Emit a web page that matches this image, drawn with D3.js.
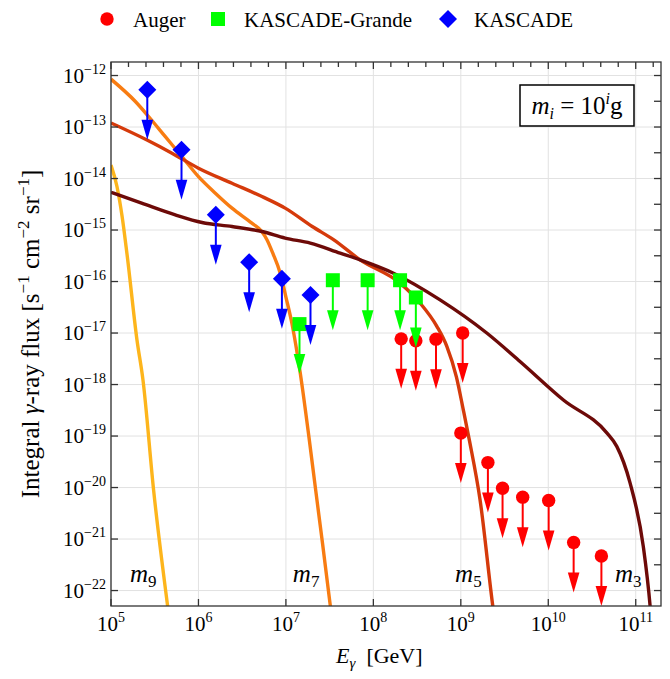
<!DOCTYPE html>
<html>
<head>
<meta charset="utf-8">
<script src="https://cdn.jsdelivr.net/npm/d3@7/dist/d3.min.js"></script>
<style>
    body { margin: 0; background: #fff; }
    svg { font-family: "Liberation Serif", "Times New Roman", serif; }
</style>
</head>
<body>
<div id="chart"></div>
<script>
// ---- data ----
// upper limits (arrow points)
const augerE = [2.08e8, 3.06e8, 5.2e8, 1.05e9, 1.0e9, 2.04e9, 3.0e9, 5.1e9, 1.01e10, 1.95e10, 4.05e10];
const augerFlux = [7.7e-18, 7.1e-18, 7.6e-18, 1.0e-17, 1.14e-19, 3.05e-20, 9.7e-21, 6.5e-21, 5.6e-21, 8.6e-22, 4.7e-22];

const grandeE = [1.43e7, 3.44e7, 8.6e7, 2.02e8, 3.06e8];
const grandeFlux = [1.49e-17, 1.06e-16, 1.06e-16, 1.06e-16, 4.9e-17];

const kascadeE = [2.6e5, 6.4e5, 1.58e6, 3.8e6, 9.0e6, 1.91e7];
const kascadeFlux = [5.3e-13, 3.6e-14, 1.97e-15, 2.38e-16, 1.13e-16, 5.5e-17];

// PBH curves, m_i = 10^i g
const m9E = [1e5, 1.17e5, 1.34e5, 1.52e5, 1.98e5, 2.32e5, 3.07e5, 4.44e5, 4.68e5];
const m9Flux = [1.82e-14, 7.0e-15, 1.83e-15, 3.55e-16, 7.4e-18, 1.23e-18, 8.9e-21, 5.0e-23, 2.5e-23];

const m7E = [1e5, 1.9e5, 2.69e5, 4.18e5, 6.47e5, 1.0e6, 1.56e6, 2.42e6, 4.08e6, 5.32e6, 6.07e6, 7.08e6,
    8.61e6, 1.0e7, 1.17e7, 1.46e7, 1.86e7, 2.19e7, 2.63e7, 3.39e7];
const m7Flux = [8.5e-13, 3.13e-13, 1.6e-13, 6.5e-14, 2.67e-14, 1.09e-14, 5.2e-15, 2.66e-15, 1.36e-15, 9.3e-16, 6.5e-16, 3.55e-16,
    1.45e-16, 5.0e-17, 1.55e-17, 1.66e-18, 7.9e-20, 8.9e-21, 7.9e-22, 2.5e-23];

const m5E = [1e5, 2.58e5, 4.98e5, 1.0e6, 2.42e6, 5.32e6, 9.8e6, 2.0e7, 3.5e7, 7.06e7, 2.02e8, 3.43e8,
    5.32e8, 6.92e8, 8.9e8, 1.07e9, 1.26e9, 1.66e9, 2.32e9, 2.45e9];
const m5Flux = [1.2e-13, 5.6e-14, 3.11e-14, 1.59e-14, 8.1e-15, 4.47e-15, 2.66e-15, 1.17e-15, 6.5e-16, 2.63e-16, 9.3e-17, 3.8e-17,
    1.35e-17, 5.5e-18, 1.41e-18, 3.16e-19, 7.9e-20, 5.75e-21, 5.0e-23, 2.5e-23];

const m3E = [1e5, 2.24e5, 5.43e5, 1.1e6, 2.42e6, 5.32e6, 9.8e6, 1.9e7, 4.17e7, 7.06e7, 1.7e8, 5.79e8,
    1.98e9, 4.75e9, 1.49e10, 4.67e10, 6.07e10, 8.61e10, 1.22e11, 1.46e11, 1.51e11];
const m3Flux = [5.4e-15, 3.33e-15, 1.97e-15, 1.4e-15, 1.17e-15, 9.35e-16, 6.97e-16, 5.57e-16, 3.55e-16, 2.63e-16, 1.45e-16, 4.4e-17,
    1.0e-17, 2.8e-18, 5.0e-19, 1.15e-19, 6.3e-20, 1.23e-20, 7.2e-22, 5.0e-23, 2.5e-23];

const curveNames = ['9', '7', '5', '3'];
const curveColors = ['#fdb51c', '#f87c12', '#d53a0b', '#6d0a08'];
// energy where each m_i label starts
const curveLabelE = [1.65e5, 1.2e7, 8.6e8, 5.8e10];

const xTickExps = [5, 6, 7, 8, 9, 10, 11];
const yTickExps = [-22, -21, -20, -19, -18, -17, -16, -15, -14, -13, -12];

const legendNames = ['Auger', 'KASCADE-Grande', 'KASCADE'];

const drawChart = (container) => {
    const dimensions = {
        width: 670,
        height: 679,
        margin: {top: 62, right: 9, bottom: 73, left: 111}
    };
    dimensions.boundWidth = dimensions.width - dimensions.margin.left - dimensions.margin.right;
    dimensions.boundHeight = dimensions.height - dimensions.margin.top - dimensions.margin.bottom;

    const root = d3.select(container)
        .append('svg')
        .attr('width', dimensions.width)
        .attr('height', dimensions.height);

    const svg = root.append('g')
        .attr('transform', `translate(${dimensions.margin.left},${dimensions.margin.top})`);

    const x = d3.scaleLog()
        .domain([1e5, 1.945e11])
        .range([0, dimensions.boundWidth]);
    const y = d3.scaleLog()
        .domain([5.01e-23, 1.83e-12])
        .range([dimensions.boundHeight, 0]);

    svg.append('clipPath').attr('id', 'plot-clip')
        .append('rect')
        .attr('width', dimensions.boundWidth)
        .attr('height', dimensions.boundHeight);

    // grid
    const grid = svg.append('g').attr('stroke', '#e2e2e2').attr('stroke-width', 1);
    grid.selectAll('.gx')
        .data(xTickExps)
        .join('line')
        .attr('class', 'gx')
        .attr('x1', d => x(Math.pow(10, d)))
        .attr('x2', d => x(Math.pow(10, d)))
        .attr('y1', 0)
        .attr('y2', dimensions.boundHeight);
    grid.selectAll('.gy')
        .data(yTickExps)
        .join('line')
        .attr('class', 'gy')
        .attr('x1', 0)
        .attr('x2', dimensions.boundWidth)
        .attr('y1', d => y(Math.pow(10, d)))
        .attr('y2', d => y(Math.pow(10, d)));

    // curves
    const curves = [
        d3.zip(m9E, m9Flux),
        d3.zip(m7E, m7Flux),
        d3.zip(m5E, m5Flux),
        d3.zip(m3E, m3Flux)
    ];
    const line = d3.line()
        .x(d => x(d[0]))
        .y(d => y(d[1]))
        .curve(d3.curveMonotoneX);

    svg.append('g')
        .attr('clip-path', 'url(#plot-clip)')
        .selectAll('path')
        .data(curves)
        .join('path')
        .attr('d', line)
        .attr('fill', 'none')
        .attr('stroke', (d, i) => curveColors[i])
        .attr('stroke-width', 3.4)
        .attr('stroke-linejoin', 'round');

    // upper limit markers with arrows
    const arrowLen = 50, headLen = 20, headHalf = 5.8;
    const drawLimits = (energies, fluxes, color, shape) => {
        const g = svg.append('g');
        const pts = d3.zip(energies, fluxes);
        const items = g.selectAll('g')
            .data(pts)
            .join('g')
            .attr('transform', d => `translate(${x(d[0])},${y(d[1])})`);
        items.append('line')
            .attr('x1', 0).attr('x2', 0)
            .attr('y1', 0).attr('y2', arrowLen - headLen + 1)
            .attr('stroke', color)
            .attr('stroke-width', 2);
        items.append('path')
            .attr('d', `M${-headHalf},${arrowLen - headLen}L${headHalf},${arrowLen - headLen}L0,${arrowLen}Z`)
            .attr('fill', color);
        items.append('path')
            .attr('d', shape)
            .attr('fill', color);
    };
    const circleShape = d3.symbol(d3.symbolCircle, Math.PI * 6.7 * 6.7)();
    const squareShape = 'M-7,-7H7V7H-7Z';
    const diamondShape = 'M0,-9L9,0L0,9L-9,0Z';

    drawLimits(augerE, augerFlux, '#ff0000', circleShape);
    drawLimits(grandeE, grandeFlux, '#00ff00', squareShape);
    drawLimits(kascadeE, kascadeFlux, '#0000ff', diamondShape);

    // frame + ticks (ticks point inwards)
    const frame = svg.append('g').attr('stroke', '#333').attr('stroke-width', 1.3);
    frame.append('rect')
        .attr('width', dimensions.boundWidth)
        .attr('height', dimensions.boundHeight)
        .attr('fill', 'none');

    xTickExps.forEach(e => {
        const px = x(Math.pow(10, e));
        frame.append('line').attr('x1', px).attr('x2', px)
            .attr('y1', dimensions.boundHeight).attr('y2', dimensions.boundHeight - 7);
    });
    yTickExps.forEach(e => {
        const py = y(Math.pow(10, e));
        frame.append('line').attr('x1', 0).attr('x2', 7).attr('y1', py).attr('y2', py);
    });
    // top ticks every 0.2 decade, right ticks every 0.5 decade
    d3.range(5, 11.3, 0.2).forEach(e => {
        const px = x(Math.pow(10, e));
        const isMajor = Math.abs(e - Math.round(e)) < 1e-6;
        frame.append('line').attr('x1', px).attr('x2', px)
            .attr('y1', 0).attr('y2', isMajor ? 7 : 5);
    });
    d3.range(-22, -11.7, 0.5).forEach(e => {
        const py = y(Math.pow(10, e));
        frame.append('line').attr('x1', dimensions.boundWidth).attr('x2', dimensions.boundWidth - 7)
            .attr('y1', py).attr('y2', py);
    });

    // tick labels
    const tickFont = 21, supFont = 14;
    const xLabels = svg.append('g')
        .selectAll('text')
        .data(xTickExps)
        .join('text')
        .attr('x', d => x(Math.pow(10, d)))
        .attr('y', dimensions.boundHeight + 25)
        .attr('text-anchor', 'middle')
        .attr('font-size', tickFont);
    xLabels.append('tspan').text('10');
    xLabels.append('tspan').attr('dy', -9).attr('font-size', supFont).text(d => d);

    const yLabels = svg.append('g')
        .selectAll('text')
        .data(yTickExps)
        .join('text')
        .attr('x', -5)
        .attr('y', d => y(Math.pow(10, d)) + 7)
        .attr('text-anchor', 'end')
        .attr('font-size', tickFont);
    yLabels.append('tspan').text('10');
    yLabels.append('tspan').attr('dy', -9).attr('font-size', supFont).text(d => '\u2212' + Math.abs(d));

    // axis titles
    const xTitle = root.append('text')
        .attr('x', 336)
        .attr('y', 663)
        .attr('font-size', 22);
    xTitle.append('tspan').attr('font-style', 'italic').text('E');
    xTitle.append('tspan').attr('font-style', 'italic').attr('font-size', 15).attr('dy', 5).text('\u03b3');
    xTitle.append('tspan').attr('dy', -5).text('\u2002[GeV]');

    const yTitle = root.append('text')
        .attr('transform', `translate(39,${dimensions.margin.top + dimensions.boundHeight / 2}) rotate(-90)`)
        .attr('text-anchor', 'middle')
        .attr('font-size', 25);
    yTitle.append('tspan').text('Integral ');
    yTitle.append('tspan').attr('font-style', 'italic').text('\u03b3');
    yTitle.append('tspan').text('-ray flux [s');
    yTitle.append('tspan').attr('dy', -10).attr('font-size', 17).text('\u22121');
    yTitle.append('tspan').attr('dy', 10).text(' cm');
    yTitle.append('tspan').attr('dy', -10).attr('font-size', 17).text('\u22122');
    yTitle.append('tspan').attr('dy', 10).text(' sr');
    yTitle.append('tspan').attr('dy', -10).attr('font-size', 17).text('\u22121');
    yTitle.append('tspan').attr('dy', 10).text(']');

    // curve labels m_i
    const curveLabels = svg.append('g')
        .selectAll('text')
        .data(curveNames)
        .join('text')
        .attr('x', (d, i) => x(curveLabelE[i]))
        .attr('y', dimensions.boundHeight - 24)
        .attr('font-size', 25);
    curveLabels.append('tspan').attr('font-style', 'italic').text('m');
    curveLabels.append('tspan').attr('dy', 5).attr('font-size', 17).text(d => d);

    // m_i = 10^i g box
    const box = root.append('g');
    box.append('rect')
        .attr('x', 520).attr('y', 85)
        .attr('width', 114).attr('height', 41)
        .attr('fill', '#fff')
        .attr('stroke', '#000')
        .attr('stroke-width', 1.5);
    const boxText = box.append('text')
        .attr('x', 577).attr('y', 114)
        .attr('text-anchor', 'middle')
        .attr('font-size', 25);
    boxText.append('tspan').attr('font-style', 'italic').text('m');
    boxText.append('tspan').attr('font-style', 'italic').attr('font-size', 16).attr('dy', 5).text('i');
    boxText.append('tspan').attr('dy', -5).text(' = 10');
    boxText.append('tspan').attr('font-style', 'italic').attr('font-size', 16).attr('dy', -10).text('i');
    boxText.append('tspan').attr('dy', 10).text('g');

    // legend
    const legend = root.append('g').attr('transform', 'translate(0,19)');
    const legendX = [107, 218, 448];
    const legendColors = ['#ff0000', '#00ff00', '#0000ff'];
    const legendShapes = [circleShape, squareShape, diamondShape];
    legendNames.forEach((name, i) => {
        legend.append('path')
            .attr('transform', `translate(${legendX[i]},0)`)
            .attr('d', legendShapes[i])
            .attr('fill', legendColors[i]);
        legend.append('text')
            .attr('x', legendX[i] + 26)
            .attr('y', 8)
            .attr('font-size', 21)
            .text(name);
    });
};

drawChart(document.getElementById('chart'));
</script>
</body>
</html>
